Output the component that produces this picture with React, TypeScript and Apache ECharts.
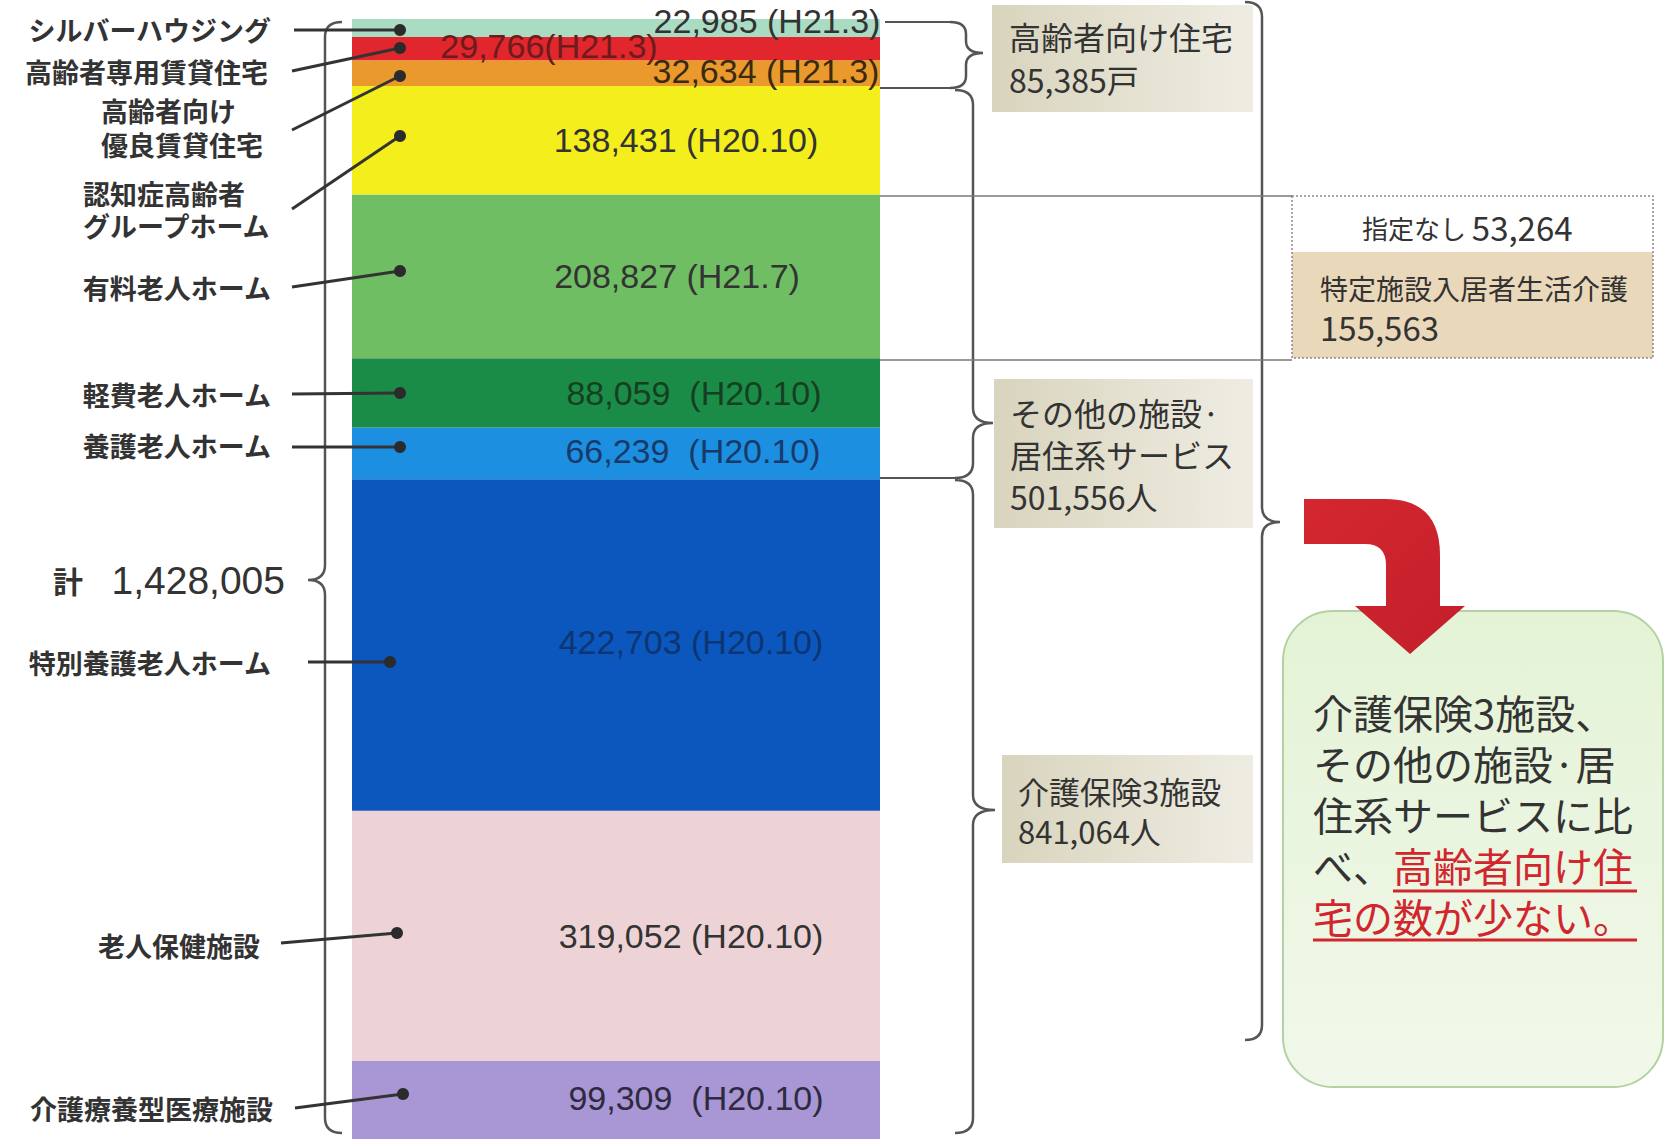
import React, { useEffect, useRef } from "react";
import * as echarts from "echarts";

// ---- data (bottom of the stack first) ----
const categories = [
  "介護療養型医療施設",
  "老人保健施設",
  "特別養護老人ホーム",
  "養護老人ホーム",
  "軽費老人ホーム",
  "有料老人ホーム",
  "認知症高齢者グループホーム",
  "高齢者向け優良賃貸住宅",
  "高齢者専用賃貸住宅",
  "シルバーハウジング",
];
const values = [99309, 319052, 422703, 66239, 88059, 208827, 138431, 32634, 29766, 22985];
const surveyDates = ["H20.10", "H20.10", "H20.10", "H20.10", "H20.10", "H21.7", "H20.10", "H21.3", "H21.3", "H21.3"];
const labelGaps = ["  ", " ", " ", "  ", "  ", " ", " ", " ", "", " "];
const groupNames = ["高齢者向け住宅", "その他の施設·\n居住系サービス", "介護保険3施設"];
const groupTotals = [85385, 501556, 841064];
const grandTotal = 1428005;
const tokuteiLabels = ["指定なし", "特定施設入居者生活介護"];
const tokuteiValues = [53264, 155563];
const messagePlain = "介護保険3施設、\nその他の施設·居\n住系サービスに比\nべ、";
const messageRed = ["高齢者向け住", "宅の数が少ない。"];

const fmt = (v: number) => v.toLocaleString("en-US");

const barColors = ["#a996d4", "#eed3d6", "#0c57bd", "#1d8fe0", "#1b8c48", "#70be63", "#f4ef1c", "#ea9a2c", "#e1262d", "#a9dcc3"];
const labelColors = ["#2e2a40", "#333333", "#0d3572", "#173a6b", "#163f22", "#333333", "#333333", "#3a2a10", "#6e1b1b", "#333333"];
const labelOffsets: [number, number][] = [
  [80, -2], [75, 0], [75, -3], [77, -2], [78, 0], [61, 0], [70, 0], [150, -2], [-67, -3], [151, -7],
];

const JP = "'Noto Sans CJK JP', 'Noto Sans CJK SC', sans-serif";
const NUM = "'Liberation Sans', Arial, sans-serif";

function braceRight(xs: number, x: number, y1: number, y2: number, ym: number, tipX: number, r = 15) {
  return `M${xs} ${y1} Q${x} ${y1} ${x} ${y1 + r} L${x} ${ym - r} Q${x} ${ym} ${tipX} ${ym} Q${x} ${ym} ${x} ${ym + r} L${x} ${y2 - r} Q${x} ${y2} ${xs} ${y2} `;
}

const App: React.FC = () => {
  const ref = useRef<HTMLDivElement>(null);

  useEffect(() => {
    if (!ref.current) return;
    const braces =
      braceRight(950, 966, 22, 88, 53, 983, 12) +
      braceRight(955, 973, 90, 478, 423, 993) +
      braceRight(955, 973, 480, 1133, 810, 995) +
      braceRight(1245, 1262, 2, 1040, 522, 1280) +
      braceRight(342, 325, 22, 1133, 580, 308);
    echarts.graphic.registerShape("braces", echarts.graphic.extendPath(braces, {}));
    const arrowD =
      "M1304 499 L1385 499 Q1440 499 1440 555 L1440 606 L1465 606 L1410 654 L1355 606 L1386 606 L1386 565 Q1386 544 1365 544 L1304 544 Z";
    echarts.graphic.registerShape("redArrow", echarts.graphic.extendPath(arrowD, {}));

    const chart = echarts.init(ref.current, null, { renderer: "svg" });

    const series = values.map((v, i) => ({
      type: "bar",
      name: categories[i],
      stack: "all",
      data: [v],
      barWidth: 528,
      itemStyle: { color: barColors[i] },
      label: {
        show: true,
        position: "inside",
        offset: labelOffsets[i],
        formatter: () => `${fmt(v)}${labelGaps[i]}(${surveyDates[i]})`,
        color: labelColors[i],
        fontSize: 34,
        fontFamily: NUM,
      },
    }));

    const txt = (text: string, x: number, y: number, o: any = {}) => ({
      type: "text",
      x,
      y,
      z: 100,
      style: {
        text,
        fill: o.fill || "#333",
        fontSize: o.fontSize || 28,
        fontFamily: o.fontFamily || JP,
        fontWeight: o.fontWeight || "normal",
        lineHeight: o.lineHeight,
        rich: o.rich,
        textAlign: o.align || "left",
        align: o.align || "left",
        textVerticalAlign: o.valign || "middle",
        verticalAlign: o.valign || "middle",
      },
    });
    const line = (x1: number, y1: number, x2: number, y2: number, o: any = {}) => ({
      type: "line",
      z: 100,
      shape: { x1, y1, x2, y2 },
      style: { stroke: o.stroke || "#333", lineWidth: o.lineWidth || 3, lineDash: o.lineDash },
    });
    const dot = (cx: number, cy: number) => ({ type: "circle", z: 101, shape: { cx, cy, r: 6 }, style: { fill: "#2b2b2b" } });
    const beige = (x: number, y: number, w: number, h: number) => ({
      type: "rect",
      z: 10,
      shape: { x, y, width: w, height: h },
      style: {
        fill: new echarts.graphic.LinearGradient(0, 0, 1, 0, [
          { offset: 0, color: "#d8d4bd" },
          { offset: 1, color: "#efede3" },
        ]),
      },
    });

    const leftLabel = { fontWeight: "bold", fontSize: 27, fill: "#333" };
    const red = "#d2262e";
    const graphic: any[] = [
      // beige group boxes
      beige(992, 5, 261, 107),
      beige(994, 379, 259, 149),
      beige(1002, 755, 251, 108),
      // tokutei dotted box
      { type: "rect", z: 10, shape: { x: 1292, y: 252, width: 361, height: 106 }, style: { fill: "#ead8ba" } },
      { type: "rect", z: 11, shape: { x: 1292, y: 196, width: 361, height: 162 }, style: { fill: "none", stroke: "#8a8a8a", lineWidth: 1.5, lineDash: [2, 2] } },
      line(880, 196, 1292, 196, { stroke: "#777", lineWidth: 1.5 }),
      line(880, 360, 1292, 360, { stroke: "#777", lineWidth: 1.5 }),
      line(885, 22, 950, 22, { stroke: "#555", lineWidth: 2 }),
      line(880, 88, 950, 88, { stroke: "#555", lineWidth: 2 }),
      line(880, 478, 955, 478, { stroke: "#555", lineWidth: 2 }),
      { type: "braces", z: 50, x: 0, y: 0, style: { fill: "none", stroke: "#555", lineWidth: 2.5 } },
      // green message box
      {
        type: "rect",
        z: 20,
        shape: { x: 1283, y: 611, width: 380, height: 476, r: 50 },
        style: {
          fill: new echarts.graphic.LinearGradient(0, 0, 0, 1, [
            { offset: 0, color: "#e4f3d6" },
            { offset: 1, color: "#f1f8ea" },
          ]),
          stroke: "#b3d2a2",
          lineWidth: 2,
        },
      },
      {
        type: "redArrow",
        z: 30,
        x: 0,
        y: 0,
        style: {
          fill: new echarts.graphic.LinearGradient(0, 0, 1, 1, [
            { offset: 0, color: "#d42630" },
            { offset: 1, color: "#c3202a" },
          ]),
        },
      },
      // group texts
      txt(`${groupNames[0]}\n${fmt(groupTotals[0])}戸`, 1009, 57, { fontSize: 32, lineHeight: 43 }),
      txt(`${groupNames[1]}\n${fmt(groupTotals[1])}人`, 1010, 454, { fontSize: 32, lineHeight: 42 }),
      txt(`${groupNames[2]}\n${fmt(groupTotals[2])}人`, 1018, 810, { fontSize: 31, lineHeight: 40 }),
      // tokutei texts
      txt(`${tokuteiLabels[0]} {n|${fmt(tokuteiValues[0])}}`, 1362, 227, {
        fontSize: 26,
        rich: { n: { fontSize: 33, fontFamily: JP, fill: "#333" } },
      }),
      txt(`${tokuteiLabels[1]}\n{n|${fmt(tokuteiValues[1])}}`, 1320, 307, {
        fontSize: 28,
        lineHeight: 39,
        rich: { n: { fontSize: 33, fontFamily: JP, fill: "#333", lineHeight: 39 } },
      }),
      // message
      txt(`${messagePlain}{r|${messageRed[0]}}\n{r|${messageRed[1]}}`, 1313, 686, {
        fontSize: 40,
        lineHeight: 51,
        valign: "top",
        rich: { r: { fill: red, fontSize: 40, fontFamily: JP, lineHeight: 51 } },
      }),
      line(1393, 891, 1637, 891, { stroke: red, lineWidth: 3 }),
      line(1313, 940, 1637, 940, { stroke: red, lineWidth: 3 }),
      // total
      txt("計", 53, 580, { fontSize: 30, fontWeight: "bold" }),
      txt(fmt(grandTotal), 285, 580, { fontSize: 39, fontFamily: NUM, align: "right" }),
      // left labels
      txt(categories[9], 271, 29, { ...leftLabel, align: "right" }),
      txt(categories[8], 268, 71, { ...leftLabel, align: "right" }),
      txt("高齢者向け\n優良賃貸住宅", 101, 127, { ...leftLabel, lineHeight: 34 }),
      txt("認知症高齢者\nグループホーム", 83, 209, { ...leftLabel, lineHeight: 32 }),
      txt(categories[5], 271, 287, { ...leftLabel, align: "right" }),
      txt(categories[4], 271, 394, { ...leftLabel, align: "right" }),
      txt(categories[3], 271, 445, { ...leftLabel, align: "right" }),
      txt(categories[2], 271, 662, { ...leftLabel, align: "right" }),
      txt(categories[1], 260, 945, { ...leftLabel, align: "right" }),
      txt(categories[0], 273, 1108, { ...leftLabel, align: "right" }),
      // leader lines
      line(294, 30, 400, 30), dot(400, 30),
      line(292, 71, 400, 48), dot(400, 48),
      line(292, 130, 400, 76), dot(400, 76),
      line(292, 209, 400, 136), dot(400, 136),
      line(292, 287, 400, 271), dot(400, 271),
      line(292, 394, 400, 393), dot(400, 393),
      line(292, 447, 400, 447), dot(400, 447),
      line(308, 662, 390, 662), dot(390, 662),
      line(281, 943, 397, 933), dot(397, 933),
      line(295, 1108, 403, 1094), dot(403, 1094),
    ];

    chart.setOption({
      animation: false,
      backgroundColor: "#ffffff",
      grid: { left: 352, top: 19, width: 528, height: 1127, containLabel: false },
      xAxis: { type: "category", data: ["計"], show: false },
      yAxis: { type: "value", min: 0, max: grandTotal, show: false },
      series,
      graphic,
    });

    return () => chart.dispose();
  }, []);

  return (
    <div
      ref={ref}
      style={{ position: "absolute", left: 0, top: 0, width: 1665, height: 1139, overflow: "hidden", background: "#fff" }}
    />
  );
};

export default App;
